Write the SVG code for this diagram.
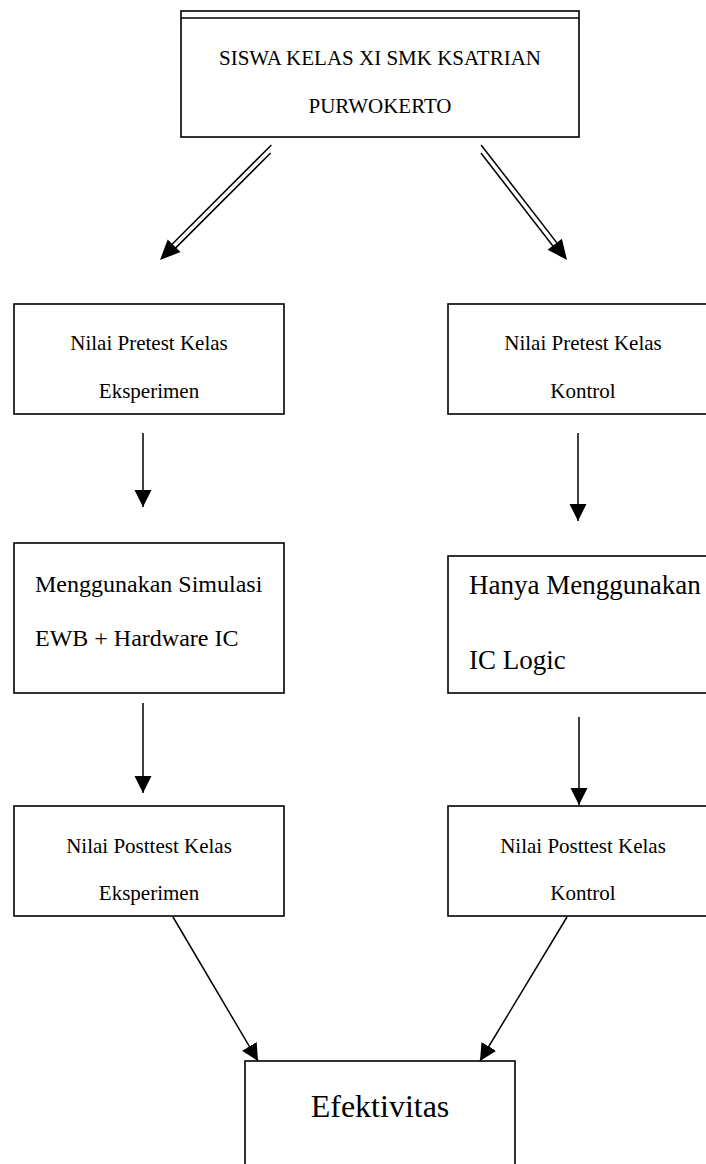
<svg xmlns="http://www.w3.org/2000/svg" width="706" height="1164" viewBox="0 0 706 1164">
<style>
.box{fill:#fff;stroke:#000;stroke-width:1.6}
.t{font-family:"Liberation Serif","Times New Roman",serif;fill:#000}
.s{font-size:21px}
.c{text-anchor:middle}
.ln{stroke:#000;stroke-width:1.5;fill:none}
.hd{fill:#000}
</style>
<defs>
<marker id="ah" markerUnits="userSpaceOnUse" markerWidth="18" markerHeight="18" refX="17" refY="8.5" orient="auto">
<path d="M0,0 L17,8.5 L0,17 z" fill="#000"/>
</marker>
</defs>
<g id="node-top">
<rect class="box" x="181" y="11" width="398" height="126"/>
<line x1="181" y1="18" x2="579" y2="18" stroke="#000" stroke-width="1.5"/>
<text class="t s c" x="380" y="65">SISWA KELAS XI SMK KSATRIAN</text>
<text class="t s c" x="380" y="113">PURWOKERTO</text>
</g>
<g id="node-pre-eks">
<rect class="box" x="14" y="304" width="270" height="110"/>
<text class="t s c" x="149" y="350">Nilai Pretest Kelas</text>
<text class="t s c" x="149" y="398">Eksperimen</text>
</g>
<g id="node-pre-kon">
<rect class="box" x="448" y="304" width="270" height="110"/>
<text class="t s c" x="583" y="350">Nilai Pretest Kelas</text>
<text class="t s c" x="583" y="398">Kontrol</text>
</g>
<g id="node-treat-eks">
<rect class="box" x="14" y="543" width="270" height="150"/>
<text class="t" font-size="24" x="35" y="592">Menggunakan Simulasi</text>
<text class="t" font-size="24" x="35" y="646">EWB + Hardware IC</text>
</g>
<g id="node-treat-kon">
<rect class="box" x="448" y="556" width="270" height="137"/>
<text class="t" font-size="27" x="469" y="594">Hanya Menggunakan</text>
<text class="t" font-size="27" x="469" y="669">IC Logic</text>
</g>
<g id="node-post-eks">
<rect class="box" x="14" y="806" width="270" height="110"/>
<text class="t s c" x="149" y="853">Nilai Posttest Kelas</text>
<text class="t s c" x="149" y="900">Eksperimen</text>
</g>
<g id="node-post-kon">
<rect class="box" x="448" y="806" width="270" height="110"/>
<text class="t s c" x="583" y="853">Nilai Posttest Kelas</text>
<text class="t s c" x="583" y="900">Kontrol</text>
</g>
<g id="node-efek">
<rect class="box" x="245" y="1061" width="270" height="120"/>
<text class="t c" font-size="32" x="380" y="1117">Efektivitas</text>
</g>
<g id="connectors">
<line class="ln" x1="271.4" y1="145" x2="168.1" y2="248.3"/>
<line class="ln" x1="270.6" y1="153" x2="171.7" y2="251.9"/>
<path class="hd" d="M160,260 L180.5,252.1 L167.7,239.5 z"/>
<line class="ln" x1="481.1" y1="145" x2="560.4" y2="247.4"/>
<line class="ln" x1="480.9" y1="153" x2="556.4" y2="250.5"/>
<path class="hd" d="M567,260 L547.6,249.7 L561.9,238.7 z"/>
<line class="ln" x1="143" y1="433" x2="143" y2="507" marker-end="url(#ah)"/>
<line class="ln" x1="578" y1="433" x2="578" y2="521" marker-end="url(#ah)"/>
<line class="ln" x1="143" y1="703" x2="143" y2="793" marker-end="url(#ah)"/>
<line class="ln" x1="579" y1="717" x2="579" y2="805" marker-end="url(#ah)"/>
<line class="ln" x1="173" y1="917" x2="258" y2="1061" marker-end="url(#ah)"/>
<line class="ln" x1="567" y1="917" x2="480" y2="1061" marker-end="url(#ah)"/>
</g>
</svg>
